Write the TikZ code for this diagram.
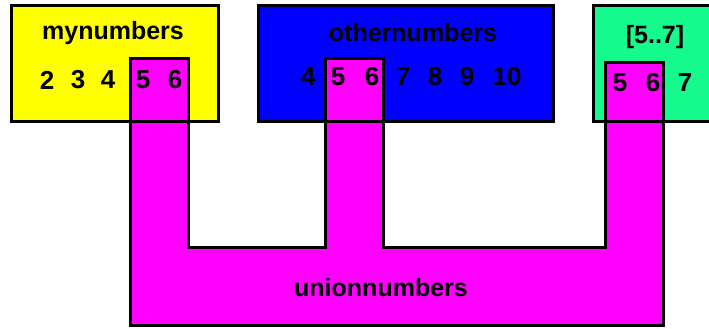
\documentclass[tikz,border=0pt]{standalone}
\usepackage{fontspec}
\setmainfont{Liberation Sans}
\usetikzlibrary{positioning}

\definecolor{setyellow}{RGB}{255,255,0}
\definecolor{setblue}{RGB}{0,0,255}
\definecolor{setgreen}{RGB}{20,250,140}
\definecolor{unionpink}{RGB}{255,0,255}

\begin{document}
\begin{tikzpicture}[
    x=1pt, y=-1pt,
    setbox/.style={inner sep=0pt, outer sep=0pt, anchor=north west},
    frame/.style={line width=3pt, line join=miter},
    title/.style={inner sep=0pt, font=\bfseries\fontsize{25}{28}\selectfont},
    num/.style={inner sep=0pt, font=\bfseries\fontsize{26}{28}\selectfont},
  ]
    \useasboundingbox (0,0) rectangle (709,329);
    \clip (0,0) rectangle (709,329);

    % the three sets
    \node[setbox, fill=setyellow, minimum width=207pt, minimum height=115pt] (mybox) at (11,6) {};
    \node[setbox, fill=setblue, minimum width=295pt, minimum height=115pt] (otherbox) at (258,6) {};
    \node[setbox, fill=setgreen, minimum width=130pt, minimum height=115pt] (rangebox) at (593,6) {};

    % the union, laid over them
    \coordinate (u1) at (130,59);
    \coordinate (u2) at (188,59);
    \coordinate (u3) at (188,247);
    \coordinate (u4) at (325,247);
    \coordinate (u5) at (325,59);
    \coordinate (u6) at (383,59);
    \coordinate (u7) at (383,247);
    \coordinate (u8) at (605,247);
    \coordinate (u9) at (605,63);
    \coordinate (u10) at (663,63);
    \coordinate (u11) at (663,325);
    \coordinate (u12) at (130,325);
    \draw[frame, fill=unionpink] (u1) -- (u2) -- (u3) -- (u4) -- (u5) -- (u6) -- (u7) -- (u8)
        -- (u9) -- (u10) -- (u11) -- (u12) -- cycle;

    \draw[frame] (mybox.north west) rectangle (mybox.south east);
    \draw[frame] (otherbox.north west) rectangle (otherbox.south east);
    \draw[frame] (rangebox.north west) rectangle (rangebox.south east);

    \node[title] (mytitle) at (113,33) {mynumbers};
    \node[title] (othertitle) at (413,33) {othernumbers};
    \node[title] (rangetitle) at (655,37) {[5..7]};
    \node[title] (uniontitle) at (381,288) {unionnumbers};

    \node[num] (my2) at (47,80) {2};
    \node[num] (my3) at (78,80) {3};
    \node[num] (my4) at (108,80) {4};
    \node[num] (my5) at (143,80) {5};
    \node[num] (my6) at (175,80) {6};

    \node[num] (other4) at (308,77) {4};
    \node[num] (other5) at (338,77) {5};
    \node[num] (other6) at (372,77) {6};
    \node[num] (other7) at (403,77) {7};
    \node[num] (other8) at (435,77) {8};
    \node[num] (other9) at (467,77) {9};
    \node[num] (other10) at (507,77) {10};

    \node[num] (range5) at (620,83) {5};
    \node[num] (range6) at (653,83) {6};
    \node[num] (range7) at (685,83) {7};
  \end{tikzpicture}
\end{document}
